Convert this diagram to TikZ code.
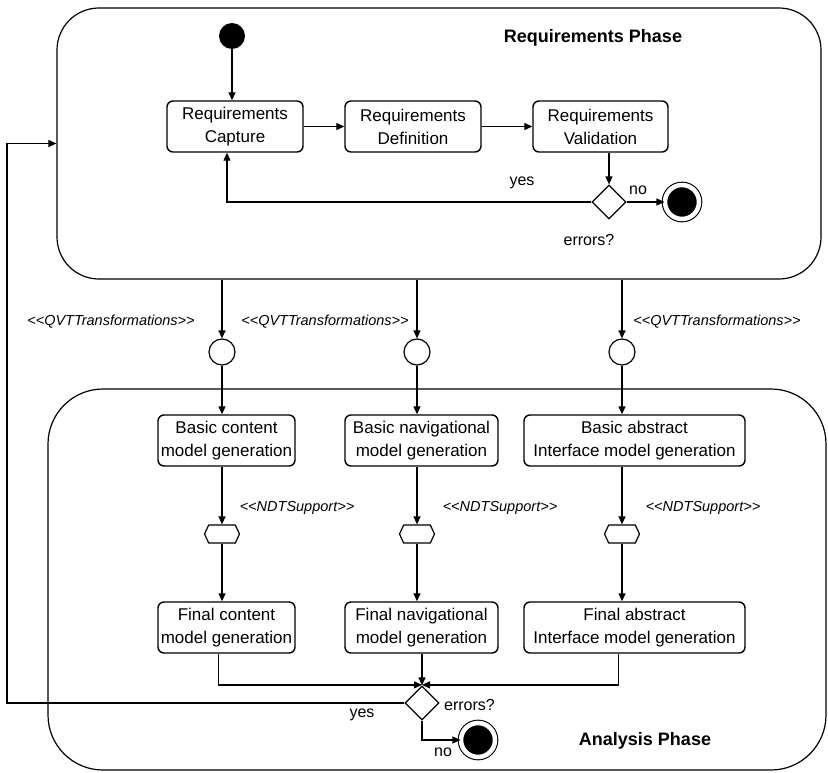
\documentclass[tikz,border=0pt]{standalone}
\usepackage{fontspec}
\setmainfont{Liberation Sans}
\usetikzlibrary{arrows.meta,positioning,calc,shapes.geometric,shapes.symbols}

\newcommand{\sopen}{<\kern0pt<}
\newcommand{\sclose}{>\kern0pt>}

\begin{document}
\begin{tikzpicture}[
  x=1pt, y=-1pt,
  phase/.style={draw, rounded corners=#1, line width=1.2pt, inner sep=0pt},
  activity/.style={draw, rounded corners=6pt, line width=1.4pt, align=center,
    minimum height=51pt, inner sep=2pt, font=\fontsize{17}{23}\selectfont},
  arrow/.style={-{Triangle[length=8pt,width=7pt]}, line width=1.3pt},
  startdot/.style={circle, fill=black, minimum size=26pt, inner sep=0pt},
  enddot/.style={circle, fill=black, draw=black, double=white, double distance=4.5pt,
    line width=1.1pt, minimum size=34pt, inner sep=0pt},
  decision/.style={diamond, draw, fill=white, line width=1.2pt, minimum size=34pt, inner sep=0pt, aspect=1},
  object/.style={circle, draw, fill=white, line width=1.2pt, minimum size=26pt, inner sep=0pt},
  support/.style={signal, signal to=east and west, signal pointer angle=130, draw, fill=white,
    line width=1.2pt, minimum width=35pt, minimum height=18pt, inner sep=0pt},
  stereo/.style={font=\itshape\fontsize{14.5}{16}\selectfont},
  note/.style={font=\fontsize{16}{18}\selectfont},
  phasetitle/.style={font=\bfseries\fontsize{18}{20}\selectfont}
]
\useasboundingbox (0,0) rectangle (828,773);

% phases
\node[phase=42pt, minimum width=764pt, minimum height=271pt] (reqphase) at (439,143.5) {};
\node[phase=55pt, minimum width=778pt, minimum height=381pt] (anaphase) at (437,579.5) {};
\node[phasetitle] (reqtitle) at (593,38) {Requirements Phase};
\node[phasetitle] (anatitle) at (645,741) {Analysis Phase};

% requirements phase
\node[startdot] (start) at (232,36) {};
\node[activity, minimum width=136pt] (capture) at (235,126.5) {Requirements\\Capture};
\node[activity, minimum width=136pt] (definition) at (413,126.5) {Requirements\\Definition};
\node[activity, minimum width=135pt] (validation) at (600.5,126.5) {Requirements\\Validation};
\node[decision] (check1) at (609,202) {};
\node[enddot] (final1) at (682,202) {};
\node[note] (yes1) at (522,183) {yes};
\node[note] (no1) at (638,190) {no};
\node[note] (err1) at (589,240) {errors?};

\draw[arrow] (start) -- (start |- capture.north);
\draw[arrow] (capture) -- (definition);
\draw[arrow] (definition) -- (validation);
\draw[arrow] (check1 |- validation.south) -- (check1.north);
\draw[arrow] (check1) -- (final1);
\draw[arrow] (check1.west) -| ($(capture.south)+(-8,0)$);

% transformations
\node[object] (qvt1) at (222,352) {};
\node[object] (qvt2) at (417,352) {};
\node[object] (qvt3) at (622,352) {};
\node[stereo] (qvtlab1) at (111,322) {\sopen QVTTransformations\sclose};
\node[stereo] (qvtlab2) at (325,322) {\sopen QVTTransformations\sclose};
\node[stereo] (qvtlab3) at (717,322) {\sopen QVTTransformations\sclose};

% analysis phase
\node[activity, minimum width=137pt] (bcontent) at (226.5,440.5) {Basic content\\model generation};
\node[activity, minimum width=153pt] (bnav) at (421.5,440.5) {Basic navigational\\model generation};
\node[activity, minimum width=221pt] (babstract) at (634.5,440.5) {Basic abstract\\Interface model generation};

\node[support] (ndt1) at (222,534) {};
\node[support] (ndt2) at (417,534) {};
\node[support] (ndt3) at (622,534) {};
\node[stereo] (ndtlab1) at (297,508) {\sopen NDTSupport\sclose};
\node[stereo] (ndtlab2) at (500,508) {\sopen NDTSupport\sclose};
\node[stereo] (ndtlab3) at (703,508) {\sopen NDTSupport\sclose};

\node[activity, minimum width=137pt] (fcontent) at (226.5,627.5) {Final content\\model generation};
\node[activity, minimum width=153pt] (fnav) at (421.5,627.5) {Final navigational\\model generation};
\node[activity, minimum width=221pt] (fabstract) at (634.5,627.5) {Final abstract\\Interface model generation};

\node[decision] (check2) at (422,703) {};
\node[enddot] (final2) at (478,740) {};
\node[note, anchor=west] (err2) at ($(check2.east)+(1,2)$) {errors?};
\node[note] (yes2) at (362,715) {yes};
\node[note] (no2) at (443,752) {no};

\foreach \col/\bas/\fin in {1/bcontent/fcontent, 2/bnav/fnav, 3/babstract/fabstract} {
  \draw[arrow] (qvt\col |- reqphase.south) -- (qvt\col);
  \draw[arrow] (qvt\col) -- (qvt\col |- \bas.north);
  \draw[arrow] (qvt\col |- \bas.south) -- (ndt\col);
  \draw[arrow] (ndt\col) -- (ndt\col |- \fin.north);
}

\draw[arrow] ($(fcontent.south)+(-8,0)$) |- ($(check2.north)+(0,-0.5)$);
\draw[arrow] (check2 |- fnav.south) -- (check2.north);
\draw[arrow] ($(fabstract.south)+(-16,0)$) |- ($(check2.north)+(0,-0.5)$);
\draw[arrow] (check2.south) |- (final2.west);

% back to requirements
\coordinate (rail) at (7,0);
\draw[arrow] (check2.west) -- (check2.west -| rail) |- (reqphase.west);
\end{tikzpicture}
\end{document}
